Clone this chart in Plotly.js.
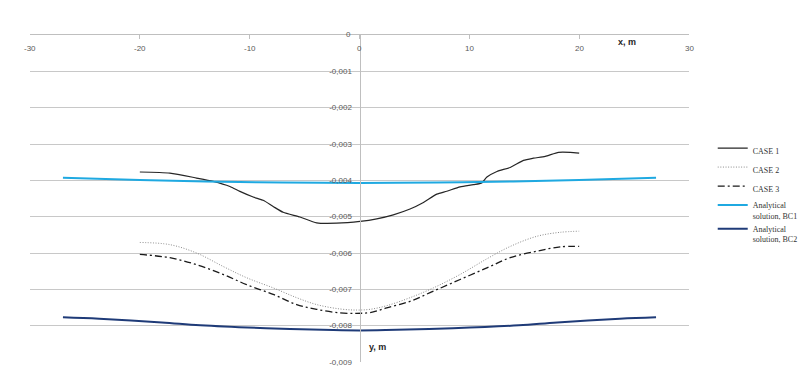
<!DOCTYPE html>
<html>
<head>
<meta charset="utf-8">
<script src="https://cdn.plot.ly/plotly-3.0.1.min.js"></script>
<style>html,body{margin:0;padding:0;background:#fff;}#chart{width:805px;height:372px;}</style>
</head>
<body>
<div id="chart"></div>
<script>
// ---- data ----
const case1X = [-20, -17.27, -14.84, -13.33, -11.8, -10.89, -9.68, -8.77, -7.86, -6.95, -5.42, -3.9, -2.08, 0.05, 1.57, 3.08, 4.6, 5.82, 7.04, 7.95, 9.16, 10.37, 11.14, 11.6, 12.51, 13.72, 14.93, 15.84, 16.91, 18.12, 19.19, 20];
const case1Y = [-0.00377, -0.0038, -0.003937, -0.00403, -0.00417, -0.004305, -0.00446, -0.00455, -0.00472, -0.00488, -0.00501, -0.00517, -0.00518, -0.00513, -0.00506, -0.00495, -0.00479, -0.00461, -0.00438, -0.0043, -0.00418, -0.00412, -0.00407, -0.00391, -0.003755, -0.003645, -0.00345, -0.00339, -0.00334, -0.00323, -0.00323, -0.00325];

const case2X = [-20, -17.27, -14.84, -12.42, -10.28, -7.86, -5.72, -3.9, -1.78, -0.26, 0.96, 2.48, 4.6, 6.73, 9.16, 11.6, 13.72, 16.15, 18.28, 20];
const case2Y = [-0.00571, -0.00577, -0.006, -0.00637, -0.00668, -0.00696, -0.00723, -0.00742, -0.00754, -0.00757, -0.00755, -0.00745, -0.00723, -0.00696, -0.00659, -0.00616, -0.00582, -0.00554, -0.00543, -0.0054];

const case3X = [-20, -17.27, -14.84, -12.42, -10.28, -7.86, -5.72, -3.9, -1.78, -0.26, 0.96, 2.48, 4.6, 6.73, 9.16, 11.6, 13.72, 16.15, 18.28, 20];
const case3Y = [-0.00604, -0.00613, -0.00632, -0.00659, -0.00687, -0.00714, -0.00742, -0.00755, -0.00765, -0.00766, -0.00764, -0.00751, -0.00733, -0.00705, -0.00673, -0.00641, -0.00613, -0.00595, -0.00583, -0.00582];

const bc1X = [-27, -20, -14, -7, 0, 7, 14, 20, 27];
const bc1Y = [-0.00393, -0.00399, -0.00403, -0.00406, -0.00407, -0.00406, -0.00403, -0.00399, -0.00393];

const bc2X = [-27, -23.7, -18, -14.5, -8.5, -2.4, 0, 2.4, 8.5, 14.5, 18, 23.7, 27];
const bc2Y = [-0.00777, -0.00781, -0.00791, -0.00799, -0.00807, -0.00812, -0.00813, -0.00812, -0.00807, -0.00799, -0.00791, -0.00781, -0.00777];

const seriesNames = ["CASE 1", "CASE 2", "CASE 3", "Analytical<br>solution, BC1", "Analytical<br>solution, BC2"];

const yTickVals = [-0.001, -0.002, -0.003, -0.004, -0.005, -0.006, -0.007, -0.008, -0.009];
const yTickText = ["-0,001", "-0,002", "-0,003", "-0,004", "-0,005", "-0,006", "-0,007", "-0,008", "-0,009"];
const yZeroText = "0";
const xTickVals = [-30, -20, -10, 0, 10, 20, 30];
const xTickText = ["-30", "-20", "-10", "0", "10", "20", "30"];

// ---- chart ----
const traces = [
  {x: case1X, y: case1Y, name: seriesNames[0], mode: 'lines',
   line: {color: '#262626', width: 1.2, shape: 'spline', smoothing: 0.6}},
  {x: case2X, y: case2Y, name: seriesNames[1], mode: 'lines',
   line: {color: '#8a8a8a', width: 1, dash: '1px,1.6px', shape: 'spline'}},
  {x: case3X, y: case3Y, name: seriesNames[2], mode: 'lines',
   line: {color: '#1a1a1a', width: 1.3, dash: '7px,3px,2px,3px', shape: 'spline'}},
  {x: bc1X, y: bc1Y, name: seriesNames[3], mode: 'lines',
   line: {color: '#1fa9e1', width: 2, shape: 'spline'}},
  {x: bc2X, y: bc2Y, name: seriesNames[4], mode: 'lines',
   line: {color: '#1f3b78', width: 2, shape: 'spline'}}
];

const tickFont = {family: 'Liberation Sans, Arial, sans-serif', size: 8, color: '#595959'};

const annotations = xTickVals.map((v, i) => ({
  text: xTickText[i], xref: 'x', yref: 'paper', x: v, y: 0.960,
  showarrow: false, xanchor: 'center', yanchor: 'middle', font: tickFont
}));
annotations.push({text: yZeroText, xref: 'x', yref: 'y', x: 0, y: 0, xshift: -11, yshift: 1,
  showarrow: false, xanchor: 'center', yanchor: 'middle', font: tickFont});
annotations.push({text: '<b>x, m</b>', xref: 'paper', yref: 'paper', x: 0.906, y: 0.979,
  showarrow: false, xanchor: 'center', yanchor: 'middle',
  font: {family: 'Liberation Sans, Arial, sans-serif', size: 9, color: '#262626'}});
annotations.push({text: '<b>y, m</b>', xref: 'paper', yref: 'paper', x: 0.528, y: 0.046,
  showarrow: false, xanchor: 'center', yanchor: 'middle',
  font: {family: 'Liberation Sans, Arial, sans-serif', size: 9, color: '#262626'}});

const layout = {
  width: 805, height: 372,
  margin: {l: 30, r: 116, t: 35, b: 10, autoexpand: false},
  paper_bgcolor: '#ffffff', plot_bgcolor: '#ffffff',
  showlegend: true,
  legend: {
    x: 1.036, xanchor: 'left', y: 0.69, yanchor: 'top',
    font: {family: 'Liberation Serif, serif', size: 8, color: '#333333'},
    valign: 'top', itemwidth: 30, bgcolor: 'rgba(0,0,0,0)'
  },
  xaxis: {
    range: [-30, 30], side: 'top', tickvals: xTickVals,
    showline: true, linecolor: '#bfbfbf', linewidth: 1,
    ticks: 'inside', ticklen: 4, tickcolor: '#bfbfbf',
    showticklabels: false,
    showgrid: false, zeroline: false
  },
  yaxis: {
    range: [-0.009, 0], tickvals: yTickVals, ticktext: yTickText,
    anchor: 'free', position: 0.5,
    showline: true, linecolor: '#bfbfbf', linewidth: 1,
    ticks: '', ticklabelstandoff: 6, tickfont: tickFont,
    showgrid: true, gridcolor: '#c8c8c8', gridwidth: 1, zeroline: false
  },
  annotations: annotations
};

Plotly.newPlot('chart', traces, layout, {displayModeBar: false, staticPlot: true});
</script>
</body>
</html>
